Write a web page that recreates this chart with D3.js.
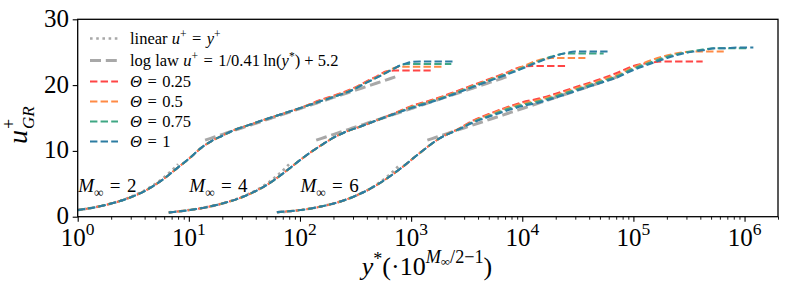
<!DOCTYPE html>
<html lang="en">
<head>
<meta charset="utf-8">
<title>u+ GR profiles</title>
<style>
body { margin: 0; background: #fff; }
text { font-family: "Liberation Serif", "DejaVu Serif", serif; fill: #000; white-space: pre; }
.tick line { stroke: #000; }
.domain { display: none; }
</style>
</head>
<body>
<script src="https://cdn.jsdelivr.net/npm/d3@7"></script>
<script>

// --- data (y* before the 10^(M/2-1) shift) ---
var machNumbers = [2, 4, 6];
var thetaLabels = ["0.25", "0.5", "0.75", "1"];
var thetaColors = ["#ff4545", "#ff8a45", "#3fa784", "#2c7ca2"];

var ystarM2 = [1, 1.5, 2, 3, 4, 6, 8, 10, 13, 16, 20, 25, 35, 50, 70, 100, 150, 200, 300, 400, 500, 600, 700, 800, 900, 1000, 1200, 1500, 2000, 2300, 2500];
var uM2_t025 = [1.0, 1.5, 2.0, 2.95, 3.9, 5.8, 7.5, 8.8, 10.5, 11.5, 12.3, 13.1, 13.95, 14.85, 15.65, 16.5, 17.7, 18.4, 19.5, 20.6, 21.4, 22.1, 22.2, 22.2, 22.2, 22.2, 22.2, 22.2, null, null, null];
var uM2_t05  = [1.0, 1.5, 2.0, 2.95, 3.9, 5.8, 7.5, 8.8, 10.5, 11.5, 12.3, 13.1, 13.95, 14.85, 15.65, 16.5, 17.6, 18.3, 19.4, 20.5, 21.3, 22.0, 22.6, 22.8, 22.8, 22.8, 22.8, 22.8, 22.8, null, null];
var uM2_t075 = [1.0, 1.5, 2.0, 2.95, 3.9, 5.8, 7.5, 8.8, 10.5, 11.5, 12.3, 13.1, 13.95, 14.85, 15.65, 16.5, 17.5, 18.2, 19.3, 20.4, 21.2, 21.9, 22.5, 23.0, 23.2, 23.2, 23.2, 23.2, 23.2, 23.2, null];
var uM2_t1   = [1.0, 1.5, 2.0, 2.95, 3.9, 5.8, 7.5, 8.8, 10.5, 11.5, 12.3, 13.1, 13.95, 14.85, 15.65, 16.5, 17.5, 18.2, 19.3, 20.4, 21.2, 21.9, 22.5, 23.0, 23.3, 23.5, 23.6, 23.6, 23.6, 23.6, 23.6];

var ystarM4 = [0.66, 1, 1.5, 2, 3, 5, 8, 10, 13, 16, 20, 25, 35, 50, 70, 100, 150, 200, 300, 500, 700, 1000, 1300, 1800, 2500, 3000, 3700, 4500, 5400, 6200];
var uM4_t025 = [0.65, 1.0, 1.5, 2.0, 2.95, 4.8, 7.3, 8.6, 10.0, 11.0, 12.0, 12.8, 13.7, 14.7, 15.7, 16.8, 17.7, 18.4, 19.5, 20.9, 21.8, 22.8, 22.9, 22.9, 22.9, null, null, null, null, null];
var uM4_t05  = [0.65, 1.0, 1.5, 2.0, 2.95, 4.8, 7.3, 8.6, 10.0, 11.0, 12.0, 12.8, 13.7, 14.7, 15.65, 16.7, 17.6, 18.3, 19.4, 20.8, 21.7, 22.8, 23.6, 24.1, 24.1, 24.1, 24.1, null, null, null];
var uM4_t075 = [0.65, 1.0, 1.5, 2.0, 2.95, 4.8, 7.3, 8.6, 10.0, 11.0, 12.0, 12.8, 13.7, 14.7, 15.6, 16.6, 17.5, 18.2, 19.3, 20.7, 21.6, 22.6, 23.4, 24.3, 24.8, 24.8, 24.8, 24.8, 24.8, null];
var uM4_t1   = [0.65, 1.0, 1.5, 2.0, 2.95, 4.8, 7.3, 8.6, 10.0, 11.0, 12.0, 12.8, 13.7, 14.7, 15.6, 16.5, 17.4, 18.1, 19.2, 20.6, 21.5, 22.5, 23.3, 24.2, 24.9, 25.1, 25.1, 25.1, 25.1, 25.1];

var ystarM6 = [0.62, 1, 1.5, 2.5, 5, 8, 12, 18, 27, 36, 50, 75, 100, 145, 200, 290, 500, 700, 1000, 1400, 2000, 2800, 3500, 4200, 5700, 6500, 8500, 11000, 12000];
var uM6_t025 = [0.7, 1.0, 1.5, 2.5, 4.9, 7.3, 9.7, 11.9, 13.4, 14.6, 15.6, 16.7, 17.4, 18.0, 18.7, 19.6, 20.9, 21.8, 22.9, 23.4, 23.6, 23.6, 23.6, 23.6, null, null, null, null, null];
var uM6_t05  = [0.7, 1.0, 1.5, 2.5, 4.9, 7.3, 9.7, 11.9, 13.4, 14.5, 15.5, 16.6, 17.2, 17.8, 18.5, 19.4, 20.7, 21.5, 22.7, 23.7, 24.5, 25.0, 25.1, 25.1, 25.1, 25.1, null, null, null];
var uM6_t075 = [0.7, 1.0, 1.5, 2.5, 4.9, 7.3, 9.7, 11.9, 13.3, 14.4, 15.3, 16.4, 17.0, 17.6, 18.3, 19.2, 20.5, 21.3, 22.5, 23.4, 24.3, 24.9, 25.2, 25.4, 25.6, 25.6, 25.6, 25.6, null];
var uM6_t1   = [0.7, 1.0, 1.5, 2.5, 4.9, 7.3, 9.7, 11.9, 13.3, 14.3, 15.2, 16.2, 16.8, 17.4, 18.1, 19.0, 20.3, 21.1, 22.3, 23.2, 24.1, 24.8, 25.1, 25.3, 25.6, 25.6, 25.7, 25.7, 25.7];

// reference laws: y* ranges where they are drawn
var linearRange = [[1, 8], [0.66, 8], [0.62, 8]];
var logLawRange = [14, 720];
var xTickValues = [1, 10, 100, 1000, 1e4, 1e5, 1e6];
var yTickValues = [0, 10, 20, 30];

var groups = [
  { M: machNumbers[0], ys: ystarM2, us: [uM2_t025, uM2_t05, uM2_t075, uM2_t1] },
  { M: machNumbers[1], ys: ystarM4, us: [uM4_t025, uM4_t05, uM4_t075, uM4_t1] },
  { M: machNumbers[2], ys: ystarM6, us: [uM6_t025, uM6_t05, uM6_t075, uM6_t1] }
];

var W = 789, H = 295;
var pLeft = 77.7, pRight = 778, pTop = 19.3, pBottom = 216.7;

var x = d3.scaleLog().domain([1, 2e6]).range([pLeft, pRight]);
var y = d3.scaleLinear().domain([0, 30]).range([pBottom, pTop]);

var svg = d3.select("body").append("svg")
    .attr("width", W)
    .attr("height", H);

svg.append("defs").append("clipPath").attr("id", "plotclip")
  .append("rect").attr("x", pLeft).attr("y", pTop)
  .attr("width", pRight - pLeft).attr("height", pBottom - pTop);

// text with sub/superscripts
function rich(g, px, py, size, parts, anchor) {
  var t = g.append("text")
      .attr("x", px).attr("y", py)
      .attr("font-size", size)
      .attr("text-anchor", anchor || "start");
  var cur = 0;
  parts.forEach(function(p) {
    var off = (p.off || 0) * size;
    t.append("tspan")
      .attr("dy", off - cur)
      .attr("font-size", (p.s || 1) * size)
      .attr("font-style", p.i ? "italic" : "normal")
      .text(p.t);
    cur = off;
  });
  return t;
}
var SUP = -0.38, SUB = 0.22;
var EQ = "\u2004=\u2004", PL = "\u2005+\u2005";

var line = d3.line()
    .defined(function(d) { return d[1] != null; })
    .x(function(d) { return x(d[0]); })
    .y(function(d) { return y(d[1]); })
    .curve(d3.curveMonotoneX);

var plot = svg.append("g").attr("clip-path", "url(#plotclip)");

groups.forEach(function(g, gi) {
  var shift = Math.pow(10, g.M / 2 - 1);

  // linear law u+ = y+
  var lr = linearRange[gi];
  var lin = d3.range(0, 31).map(function(k) {
    var v = lr[0] * Math.pow(lr[1] / lr[0], k / 30);
    return [v * shift, v];
  });
  plot.append("path")
    .attr("d", line(lin))
    .attr("fill", "none")
    .attr("stroke", "#a8a8a8")
    .attr("stroke-width", 2.6)
    .attr("stroke-dasharray", "2.6,3.6");

  // log law
  var ll = d3.range(0, 41).map(function(k) {
    var v = logLawRange[0] * Math.pow(logLawRange[1] / logLawRange[0], k / 40);
    return [v * shift, 1 / 0.41 * Math.log(v) + 5.2];
  });
  plot.append("path")
    .attr("d", line(ll))
    .attr("fill", "none")
    .attr("stroke", "#a8a8a8")
    .attr("stroke-width", 3)
    .attr("stroke-dasharray", "11,4.8");
});

groups.forEach(function(g) {
  var shift = Math.pow(10, g.M / 2 - 1);
  g.us.forEach(function(us, ti) {
    var pts = g.ys.map(function(v, k) { return [v * shift, us[k]]; });
    plot.append("path")
      .attr("d", line(pts))
      .attr("fill", "none")
      .attr("stroke", thetaColors[ti])
      .attr("stroke-width", 2)
      .attr("stroke-dasharray", "7.4,3.2")
      .attr("stroke-dashoffset", [2.2, 1.4, 0.6, 0][ti]);
  });
});

// Mach annotations
groups.forEach(function(g) {
  var shift = Math.pow(10, g.M / 2 - 1);
  rich(svg, x(shift) + 0.5, y(3.7), 19, [
    { t: "M", i: true },
    { t: "\u221E", s: 0.7, off: SUB },
    { t: EQ + g.M }
  ]);
});

// frame
svg.append("rect")
  .attr("x", pLeft).attr("y", pTop)
  .attr("width", pRight - pLeft).attr("height", pBottom - pTop)
  .attr("fill", "none").attr("stroke", "#000").attr("stroke-width", 1.3);

// x axis
var minor = [];
for (var e = 0; e <= 6; e++) {
  for (var m = 2; m <= 9; m++) {
    var v = m * Math.pow(10, e);
    if (v <= 2e6) minor.push(v);
  }
}
svg.append("g")
  .attr("transform", "translate(0," + pBottom + ")")
  .call(d3.axisBottom(x).tickValues(minor).tickSize(3).tickFormat(""))
  .selectAll("line").attr("stroke-width", 0.9);
svg.append("g")
  .attr("transform", "translate(0," + pBottom + ")")
  .call(d3.axisBottom(x).tickValues(xTickValues).tickSize(5).tickFormat(""))
  .selectAll("line").attr("stroke-width", 1.1);

xTickValues.forEach(function(v) {
  rich(svg, x(v), 245.5, 25, [
    { t: "10" },
    { t: String(Math.round(Math.log10(v))), s: 0.7, off: -0.42 }
  ], "middle");
});

// y axis
svg.append("g")
  .attr("transform", "translate(" + pLeft + ",0)")
  .call(d3.axisLeft(y).tickValues(yTickValues).tickSize(5).tickFormat(""))
  .selectAll("line").attr("stroke-width", 1.1);
yTickValues.forEach(function(v) {
  svg.append("text")
    .attr("x", 69).attr("y", y(v) + 7.5)
    .attr("font-size", 25)
    .attr("text-anchor", "end")
    .text(v);
});

// axis labels
rich(svg, 427, 275, 26, [
  { t: "y", i: true },
  { t: "*", s: 0.7, off: SUP },
  { t: "(\u00B710" },
  { t: "M", i: true, s: 0.7, off: -0.45 },
  { t: "\u221E", s: 0.5, off: -0.33 },
  { t: "/2\u22121", s: 0.7, off: -0.45 },
  { t: ")" }
], "middle");

var yl = svg.append("g").attr("transform", "translate(27,144) rotate(-90)");
var ut = yl.append("text").attr("x", 0).attr("y", 0).attr("font-size", 28)
  .attr("font-style", "italic").text("u");
var uw = ut.node().getComputedTextLength();
yl.append("text").attr("x", uw + 1).attr("y", -12).attr("font-size", 18).text("+");
yl.append("text").attr("x", uw + 1).attr("y", 7).attr("font-size", 17)
  .attr("font-style", "italic").text("GR");

// legend
var legend = svg.append("g");
var legendY = [38.5, 60.5, 81.5, 101.5, 121.5, 141.5];
legend.append("line")
  .attr("x1", 90).attr("x2", 118).attr("y1", legendY[0]).attr("y2", legendY[0])
  .attr("stroke", "#a8a8a8").attr("stroke-width", 2.6).attr("stroke-dasharray", "2.6,3.6");
legend.append("line")
  .attr("x1", 90).attr("x2", 118).attr("y1", legendY[1]).attr("y2", legendY[1])
  .attr("stroke", "#a8a8a8").attr("stroke-width", 3).attr("stroke-dasharray", "11,4.8");
rich(legend, 130, legendY[0] + 5.5, 16.5, [
  { t: "linear " },
  { t: "u", i: true }, { t: "+", s: 0.7, off: SUP },
  { t: EQ },
  { t: "y", i: true }, { t: "+", s: 0.7, off: SUP }
]);
rich(legend, 130, legendY[1] + 5.5, 16.5, [
  { t: "log law " },
  { t: "u", i: true }, { t: "+", s: 0.7, off: SUP },
  { t: EQ + "1/0.41\u2009ln(" },
  { t: "y", i: true }, { t: "*", s: 0.7, off: SUP },
  { t: ")" + PL + "5.2" }
]);
thetaLabels.forEach(function(lbl, i) {
  var ly = legendY[i + 2];
  legend.append("line")
    .attr("x1", 90).attr("x2", 118).attr("y1", ly).attr("y2", ly)
    .attr("stroke", thetaColors[i]).attr("stroke-width", 2)
    .attr("stroke-dasharray", "7.4,3.2");
  rich(legend, 130, ly + 5.5, 16.5, [
    { t: "\u0398", i: true },
    { t: EQ + lbl }
  ]);
});

</script>
</body>
</html>
